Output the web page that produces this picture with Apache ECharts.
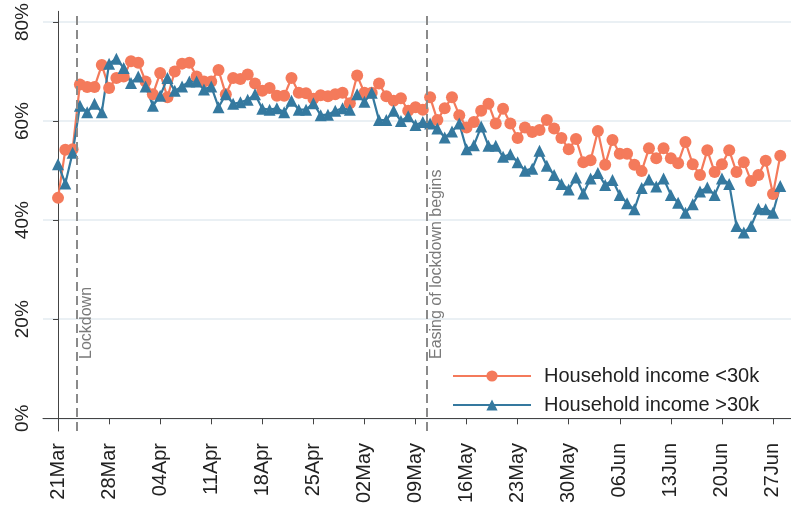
<!DOCTYPE html>
<html>
<head>
<meta charset="utf-8">
<script src="https://cdn.jsdelivr.net/npm/echarts@6/dist/echarts.min.js"></script>
<style>
  html, body { margin: 0; padding: 0; background: #fff; }
  #chart { width: 791px; height: 508px; }
</style>
</head>
<body>
<div id="chart"></div>
<script>
// day 0 = 21 March, one value per day up to 28 June
const lowIncome = [
  44.5, 54.2, 54.3, 67.4, 66.9, 66.9, 71.3, 66.7, 68.7, 69.0,
  72.1, 71.8, 68.0, 65.4, 69.7, 64.8, 70.0, 71.6, 71.8, 69.0,
  68.0, 68.0, 70.3, 65.4, 68.7, 68.5, 69.4, 67.6, 66.1, 66.7,
  65.1, 65.1, 68.7, 65.7, 65.6, 64.5, 65.2, 65.0, 65.4, 65.7,
  63.6, 69.2, 65.7, 65.7, 67.6, 65.0, 64.1, 64.6, 62.1, 62.8,
  62.3, 64.8, 60.2, 62.6, 64.8, 61.2, 58.7, 59.8, 62.1, 63.5,
  59.5, 62.5, 59.5, 56.6, 58.7, 57.8, 58.2, 60.2, 58.5, 56.6,
  54.3, 56.4, 51.7, 52.1, 58.0, 51.2, 56.2, 53.4, 53.4, 51.2,
  49.9, 54.5, 52.5, 54.5, 52.5, 51.5, 55.8, 51.3, 49.1, 54.1,
  49.7, 51.3, 54.1, 49.7, 51.7, 47.9, 49.1, 52.0, 45.3, 53.0
];
const highIncome = [
  51.3, 47.4, 53.6, 63.1, 61.8, 63.5, 61.8, 71.6, 72.6, 70.7,
  67.7, 69.0, 67.0, 63.1, 65.1, 68.7, 66.1, 67.0, 68.0, 68.0,
  66.4, 67.0, 62.8, 65.4, 63.5, 63.8, 64.3, 65.4, 62.5, 62.3,
  62.6, 61.8, 64.1, 62.3, 62.3, 63.6, 61.2, 61.3, 62.1, 62.6,
  62.3, 65.4, 63.9, 65.7, 60.2, 60.2, 62.1, 60.0, 61.0, 59.2,
  59.8, 59.5, 58.5, 56.7, 57.9, 59.5, 54.3, 55.1, 58.9, 55.0,
  55.0, 52.8, 53.3, 51.7, 50.0, 50.4, 54.0, 51.0, 49.1, 47.3,
  46.2, 48.6, 45.4, 48.4, 49.5, 47.1, 48.1, 45.1, 43.4, 42.2,
  46.5, 48.2, 46.8, 48.4, 45.1, 43.5, 41.5, 43.2, 45.8, 46.6,
  45.1, 48.4, 47.3, 38.8, 37.5, 38.8, 42.3, 42.2, 41.5, 46.9
];

const tickDays = [0, 7, 14, 21, 28, 35, 42, 49, 56, 63, 70, 77, 84, 91, 98];
const tickLabels = ['21Mar', '28Mar', '04Apr', '11Apr', '18Apr', '25Apr', '02May',
  '09May', '16May', '23May', '30May', '06Jun', '13Jun', '20Jun', '27Jun'];
const yTicks = [0, 20, 40, 60, 80];

const lockdownDay = 2.55;
const easingDay = 50.5;

const ORANGE = '#f47a5b';
const BLUE = '#35799f';
const FONT = 'Liberation Sans, Arial, sans-serif';

const chart = echarts.init(document.getElementById('chart'));

const eventLabel = (text) => ({
  show: true,
  formatter: text,
  position: 'insideStartBottom',
  distance: [72, 2],
  color: '#7a7a7a',
  fontSize: 16,
  fontFamily: FONT
});

chart.setOption({
  animation: false,
  textStyle: { fontFamily: FONT },
  grid: { left: 43, right: 0, top: 0, bottom: 77 },
  legend: {
    orient: 'vertical',
    left: 447,
    top: 361,
    itemWidth: 78,
    itemHeight: 14,
    itemGap: 9,
    textStyle: { fontSize: 20, color: '#222', padding: [0, 0, 0, 8] },
    data: ['Household income <30k', 'Household income >30k']
  },
  xAxis: {
    type: 'value',
    min: -2.06,
    max: 100.47,
    axisLine: { show: true, lineStyle: { color: '#444', width: 1 } },
    axisTick: { show: true, length: 6, customValues: tickDays, lineStyle: { color: '#444' } },
    axisLabel: {
      customValues: tickDays,
      rotate: 90,
      margin: 12,
      fontSize: 20,
      color: '#222',
      formatter: (v) => tickLabels[tickDays.indexOf(v)] || ''
    },
    splitLine: { show: false }
  },
  yAxis: {
    type: 'value',
    min: -2.56,
    max: 82.16,
    axisLine: { show: true, lineStyle: { color: '#444', width: 1 } },
    axisTick: { show: true, length: 5, customValues: yTicks, lineStyle: { color: '#444' } },
    axisLabel: {
      customValues: yTicks,
      rotate: 90,
      margin: 11,
      fontSize: 19,
      color: '#222',
      formatter: (v) => v + '%'
    },
    splitLine: { show: true, lineStyle: { color: '#eaf0f4', width: 2 } }
  },
  series: [
    {
      name: 'Household income <30k',
      type: 'line',
      data: lowIncome.map((v, i) => [i, v]),
      symbol: 'circle',
      symbolSize: 12,
      lineStyle: { color: ORANGE, width: 2.2 },
      itemStyle: { color: ORANGE },
      markLine: {
        silent: true,
        symbol: ['none', 'none'],
        lineStyle: { color: '#8a8a8a', type: [9, 5], width: 2 },
        data: [
          { xAxis: lockdownDay, label: eventLabel('Lockdown') },
          { xAxis: easingDay, label: eventLabel('Easing of lockdown begins') }
        ]
      }
    },
    {
      name: 'Household income >30k',
      type: 'line',
      data: highIncome.map((v, i) => [i, v]),
      symbol: 'triangle',
      symbolSize: 12,
      lineStyle: { color: BLUE, width: 2.2 },
      itemStyle: { color: BLUE }
    }
  ]
});
</script>
</body>
</html>
